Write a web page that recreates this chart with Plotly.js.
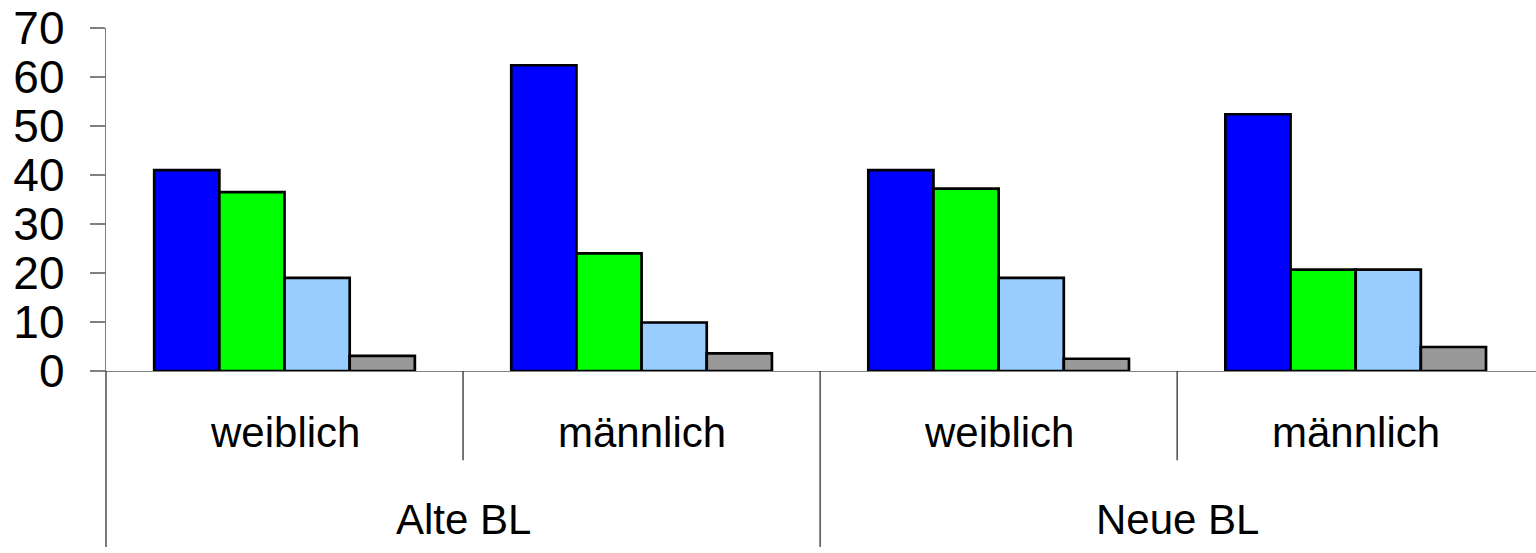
<!DOCTYPE html>
<html>
<head>
<meta charset="utf-8">
<script src="https://cdn.plot.ly/plotly-3.0.1.min.js"></script>
<style>html,body{margin:0;padding:0;background:#fff;overflow:hidden}</style>
</head>
<body>
<div id="chart" style="width:1536px;height:553px"></div>
<script>
var regions = ["Alte BL", "Alte BL", "Neue BL", "Neue BL"];
var genders = ["weiblich", "männlich", "weiblich", "männlich"];
var series1 = [41.0, 62.4, 41.0, 52.4];
var series2 = [36.5, 24.0, 37.2, 20.7];
var series3 = [19.0, 9.9, 19.0, 20.7];
var series4 = [3.1, 3.6, 2.5, 4.9];
var seriesNames = ["Reihe 1", "Reihe 2", "Reihe 3", "Reihe 4"];
var colors = ["#0000FF", "#00FF00", "#99CCFF", "#999999"];
var yTicks = [0, 10, 20, 30, 40, 50, 60, 70];

var FONT = "Liberation Sans, Arial, sans-serif";
var keys = regions.map(function (r, i) { return r + " / " + genders[i]; });

var all = [series1, series2, series3, series4];
var traces = all.map(function (vals, i) {
  return {
    type: "bar",
    name: seriesNames[i],
    x: keys,
    y: vals,
    marker: { color: colors[i], line: { color: "#000000", width: 2.7 } },
    hoverinfo: "y"
  };
});

// labels and dividers for the two-level category axis
var annotations = [];
var shapes = [];
genders.forEach(function (g, i) {
  annotations.push({
    xref: "x", yref: "paper", x: i, y: 0, yanchor: "middle", xanchor: "center",
    yshift: -61, text: g, showarrow: false,
    font: { size: 42, color: "#000000", family: FONT }
  });
});
var uniqueRegions = regions.filter(function (r, i) { return regions.indexOf(r) === i; });
uniqueRegions.forEach(function (r) {
  var idx = [];
  regions.forEach(function (rr, i) { if (rr === r) idx.push(i); });
  var mid = (idx[0] + idx[idx.length - 1]) / 2;
  annotations.push({
    xref: "x", yref: "paper", x: mid, y: 0, yanchor: "middle", xanchor: "center",
    yshift: -148, text: r, showarrow: false,
    font: { size: 42, color: "#000000", family: FONT }
  });
});
for (var i = 1; i < regions.length; i++) {
  var major = regions[i] !== regions[i - 1];
  shapes.push({
    type: "line", xref: "x", yref: "paper", x0: i - 0.5, x1: i - 0.5,
    y0: 0, y1: major ? -0.513 : -0.26,
    line: { color: "#303030", width: 1.3 }
  });
}
shapes.push({
  type: "line", xref: "paper", yref: "paper", x0: 0, x1: 0, y0: 0, y1: -0.513,
  line: { color: "#303030", width: 1.3 }
});

var layout = {
  width: 1536,
  height: 553,
  margin: { l: 106, r: 0, t: 28, b: 182 },
  paper_bgcolor: "#ffffff",
  plot_bgcolor: "#ffffff",
  showlegend: false,
  barmode: "group",
  bargap: 0.27,
  bargroupgap: 0,
  font: { family: FONT, color: "#000000" },
  annotations: annotations,
  shapes: shapes,
  xaxis: {
    type: "category",
    range: [-0.5, 3.505],
    showline: true,
    linecolor: "#808080",
    linewidth: 1.3,
    ticks: "",
    showgrid: false,
    showticklabels: false
  },
  yaxis: {
    range: [0, 70],
    tickvals: yTicks,
    ticktext: yTicks.map(String),
    showline: true,
    linecolor: "#808080",
    linewidth: 1.3,
    ticks: "outside",
    ticklen: 15,
    tickcolor: "#808080",
    tickwidth: 1.3,
    showgrid: false,
    zeroline: false,
    tickfont: { size: 46, color: "#000000", family: FONT },
    ticklabelstandoff: 16
  }
};

Plotly.newPlot("chart", traces, layout, { displayModeBar: false, staticPlot: true });
</script>
</body>
</html>
